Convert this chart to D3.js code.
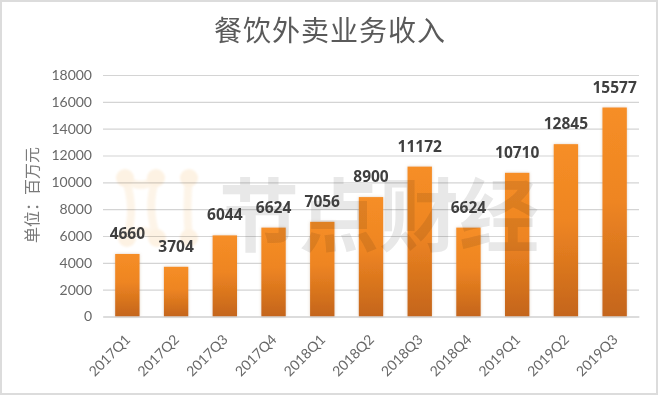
<!DOCTYPE html>
<html><head><meta charset="utf-8">
<script src="https://cdn.jsdelivr.net/npm/d3@7"></script>
<style>html,body{margin:0;padding:0;background:#fff}svg{display:block}</style></head>
<body><svg id="c" width="660" height="396"></svg>
<script>
const categories=["2017Q1","2017Q2","2017Q3","2017Q4","2018Q1","2018Q2","2018Q3","2018Q4","2019Q1","2019Q2","2019Q3"];
const revenue=[4660,3704,6044,6624,7056,8900,11172,6624,10710,12845,15577];
const yTicks=[0,2000,4000,6000,8000,10000,12000,14000,16000,18000];
const titleText="餐饮外卖业务收入";
const unitText="单位：百万元";
const watermarkText="节点财经";

const svg=d3.select("#c");
const defs=svg.append("defs");
const g=defs.append("linearGradient").attr("id","bar").attr("x1",0).attr("x2",0).attr("y1",0).attr("y2",1);
g.append("stop").attr("offset","0%").attr("stop-color","#f68e26");
g.append("stop").attr("offset","45%").attr("stop-color","#ee8522");
g.append("stop").attr("offset","100%").attr("stop-color","#c4651a");
const f=defs.append("filter").attr("id","sh").attr("x","-30%").attr("y","-10%").attr("width","160%").attr("height","120%");
f.append("feDropShadow").attr("dx",0).attr("dy",0).attr("stdDeviation",1.6).attr("flood-color","#b08a60").attr("flood-opacity",.4);
const soft=defs.append("filter").attr("id","soft");
soft.append("feGaussianBlur").attr("stdDeviation",1);

svg.append("rect").attr("x",1).attr("y",1).attr("width",656).attr("height",393)
  .attr("fill","#fff").attr("stroke","#dcdcdc").attr("stroke-width",2);

const x=d3.scaleBand().domain(categories).range([103,639]).paddingInner(.5).paddingOuter(.25);
const y=d3.scaleLinear().domain([0,18000]).range([316.5,75]);

// gridlines
const yAxis=d3.axisLeft(y).tickValues(yTicks).tickFormat(d3.format("d")).tickSize(-536).tickPadding(11);
const ya=svg.append("g").attr("transform","translate(103,0)").call(yAxis);
ya.select(".domain").remove();
ya.selectAll("line").attr("stroke","#d4d4d4").attr("stroke-width",1.2);
ya.selectAll("text").attr("font-family","Lato,'Open Sans',sans-serif").attr("font-size",14).attr("fill","#686868");

// bars
svg.append("g").selectAll("rect").data(categories).join("rect")
  .attr("x",d=>x(d)).attr("width",x.bandwidth())
  .attr("y",(d,i)=>y(revenue[i])).attr("height",(d,i)=>y(0)-y(revenue[i]))
  .attr("fill","url(#bar)").attr("filter","url(#sh)");

// watermark, laid over the bars so it shows through them
const logo=svg.append("g").attr("filter","url(#soft)").style("mix-blend-mode","multiply");
logo.append("path").attr("fill","none").attr("stroke","#fdf4e8").attr("stroke-width",8)
  .attr("d","M125 178 Q141 192 156 178 M125 178 Q136 207 127 238 M156 178 Q146 207 157 238 M127 238 Q142 224 157 238 M189 178 Q186 207 189 238");
logo.append("g").attr("fill","#fdf2e3").selectAll("circle")
  .data([[125,178],[156,178],[189,178],[127,238],[157,238],[189,238]]).join("circle")
  .attr("cx",d=>d[0]).attr("cy",d=>d[1]).attr("r",9);
svg.append("text").text(watermarkText).attr("x",219).attr("y",245)
  .attr("font-family","'Noto Sans CJK SC'").attr("font-weight",700).attr("font-size",80)
  .attr("fill","#e8e8e8").style("mix-blend-mode","multiply");

// value labels
svg.append("g").selectAll("text").data(categories).join("text")
  .attr("x",d=>x(d)+x.bandwidth()/2).attr("y",(d,i)=>y(revenue[i])-15)
  .attr("text-anchor","middle").attr("font-family","'Open Sans',Lato,sans-serif").attr("font-weight",700)
  .attr("font-size",15.5).attr("fill","#3f3f3f").text((d,i)=>revenue[i]);

// x axis
const xa=svg.append("g").attr("transform","translate(0,316.5)").call(d3.axisBottom(x).tickSize(0));
xa.select(".domain").attr("stroke","#d0d0d0").attr("stroke-width",1.2);
xa.selectAll("text").attr("font-family","Lato,'Open Sans',sans-serif").attr("font-size",14).attr("fill","#686868")
  .attr("text-anchor","end").attr("dx",0).attr("dy",0).attr("y",0)
  .attr("transform","translate(4,24) rotate(-45)");

svg.append("text").text(titleText).attr("x",330).attr("y",41).attr("text-anchor","middle")
  .attr("font-family","'Noto Sans CJK SC'").attr("font-size",28).attr("letter-spacing",1).attr("fill","#5a5a5a");
svg.append("text").text(unitText).attr("transform","translate(38,195) rotate(-90)").attr("text-anchor","middle")
  .attr("font-family","'Noto Sans CJK SC'").attr("font-size",16).attr("fill","#7a7a7a");
</script></body></html>
